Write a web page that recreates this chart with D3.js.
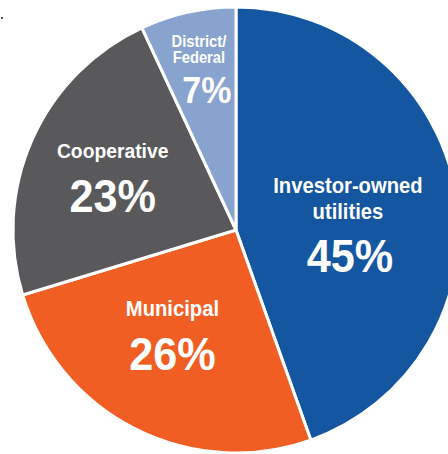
<!DOCTYPE html>
<html>
<head>
<meta charset="utf-8">
<script src="https://cdn.jsdelivr.net/npm/d3@7"></script>
<style>
  body { margin: 0; background: #fff; }
  svg { display: block; }
  text { font-family: "Liberation Sans", Arial, sans-serif; font-weight: bold; fill: #fff; }
</style>
</head>
<body>
<div id="root"></div>
<script>
// Share of customers by utility ownership
var categories = ["Investor-owned utilities", "Municipal", "Cooperative", "District/Federal"];
var shares = [45, 26, 23, 7];
var labelLines = [["Investor-owned", "utilities"], ["Municipal"], ["Cooperative"], ["District/", "Federal"]];

var colors = ["#1456a0", "#f15e23", "#59595b", "#89a3cf"];

var width = 448, height = 454;
var cx = 236, cy = 230, radius = 223;
var condense = 0.92; // fake a condensed face

// label layout per slice: polar position of first baseline + font sizes
var layout = [
  {angle: 92, r: 112, top: -41, name: 22, pct: 47, gap: 26, pctGap: 53, pctDx: 2},
  {angle: 212, r: 120, top: -16, name: 22, pct: 47, gap: 0, pctGap: 54, pctDx: 0},
  {angle: 292, r: 133, top: -22, name: 21, pct: 47, gap: 0, pctGap: 54, pctDx: 0},
  {angle: 347, r: 165, top: -22, name: 16, pct: 37, gap: 16, pctGap: 40, pctDx: 8}
];

var svg = d3.select("#root")
  .append("svg")
  .attr("width", width)
  .attr("height", height);

// small mark at top left of the original
svg.append("rect")
  .attr("x", 1).attr("y", 17)
  .attr("width", 2).attr("height", 2)
  .attr("fill", "#555");

var g = svg.append("g")
  .attr("transform", "translate(" + cx + "," + cy + ")");

var pie = d3.pie()
  .value(function (d) { return d; })
  .sort(null);

var arc = d3.arc()
  .innerRadius(0)
  .outerRadius(radius);

var arcs = pie(shares);

g.selectAll(".slice")
  .data(arcs)
  .enter().append("path")
  .attr("class", "slice")
  .attr("d", arc)
  .attr("fill", function (d, i) { return colors[i]; })
  .attr("stroke", "#fff")
  .attr("stroke-width", 3)
  .attr("stroke-linejoin", "round");

// Labels
var labels = g.selectAll(".label")
  .data(arcs)
  .enter().append("g")
  .attr("class", "label")
  .attr("transform", function (d, i) {
    var L = layout[i];
    var a = L.angle * Math.PI / 180;
    return "translate(" + (Math.sin(a) * L.r) + "," + (-Math.cos(a) * L.r + L.top) + ") scale(" + condense + ",1)";
  });

labels.each(function (d, i) {
  var L = layout[i];
  var sel = d3.select(this);
  labelLines[i].forEach(function (line, k) {
    sel.append("text")
      .attr("text-anchor", "middle")
      .attr("y", k * L.gap)
      .attr("font-size", L.name)
      .text(line);
  });
  sel.append("text")
    .attr("text-anchor", "middle")
    .attr("x", L.pctDx / condense)
    .attr("y", (labelLines[i].length - 1) * L.gap + L.pctGap)
    .attr("font-size", L.pct)
    .text(shares[i] + "%");
});
</script>
</body>
</html>
